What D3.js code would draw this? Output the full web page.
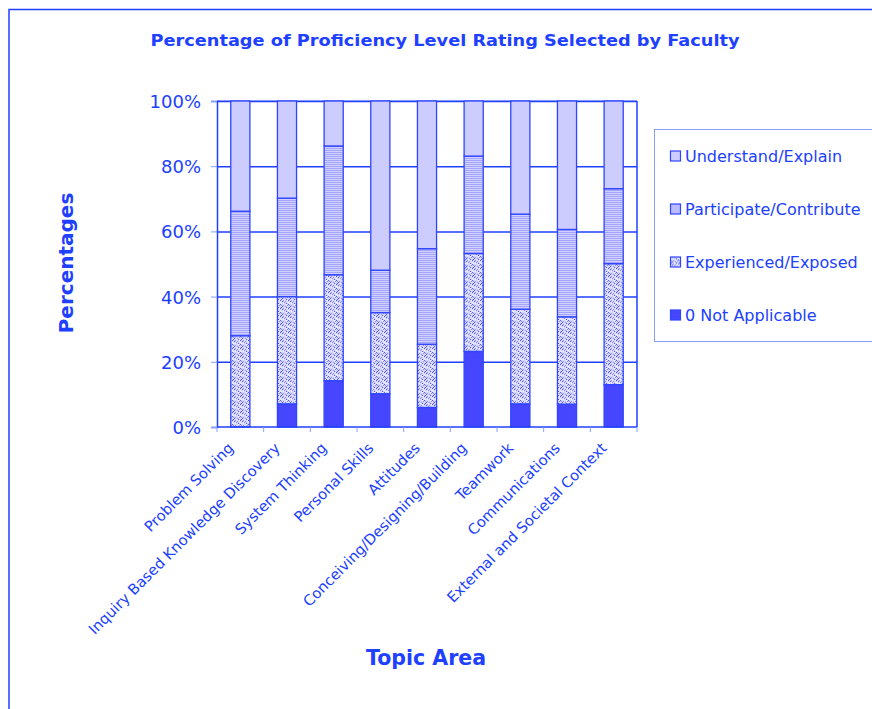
<!DOCTYPE html>
<html>
<head>
<meta charset="utf-8">
<script src="https://cdn.jsdelivr.net/npm/d3@7"></script>
<style>
  body { margin: 0; background: #fff; }
  text { font-family: Verdana, "DejaVu Sans", sans-serif; fill: #2040ff; }
</style>
</head>
<body>
<svg width="872" height="709"></svg>
<script>
// topic areas and percentage of each rating (stacked bottom to top)
var topics = ['Problem Solving', 'Inquiry Based Knowledge Discovery', 'System Thinking',
    'Personal Skills', 'Attitudes', 'Conceiving/Designing/Building', 'Teamwork',
    'Communications', 'External and Societal Context'];
var notApplicable = [0, 7.1, 14.2, 10.2, 6, 23.2, 7.1, 7, 13];
var experienced   = [28, 32.9, 32.5, 24.9, 19.4, 30, 29, 26.8, 37.1];
var participate   = [38.2, 30.2, 39.5, 13, 29.3, 29.9, 29.2, 26.8, 23];
var understand    = [33.8, 29.8, 13.8, 51.9, 45.3, 16.9, 34.7, 39.4, 26.9];
var seriesNames = ['0 Not Applicable', 'Experienced/Exposed', 'Participate/Contribute', 'Understand/Explain'];
var yTicks = [0, 20, 40, 60, 80, 100];

var svg = d3.select('svg');
var blue = '#2040ff';
var barStroke = '#2f45ff';

var plot = {l: 217, r: 637, t: 101, b: 427};

// fill patterns
var defs = svg.append('defs');
var stripes = defs.append('pattern')
    .attr('id', 'stripes')
    .attr('patternUnits', 'userSpaceOnUse')
    .attr('width', 4).attr('height', 2);
stripes.append('rect').attr('width', 4).attr('height', 2).attr('fill', '#d0d0ff');
stripes.append('rect').attr('width', 4).attr('height', 1).attr('fill', '#a6a6ff');

// fixed speckle tile for "Experienced/Exposed"
var speckleDots = [[0,0],[3,1],[6,0],[1,3],[5,2],[7,4],[2,5],[4,6],[0,6],[6,7],[3,4],[1,7],
    [2,2],[7,1],[4,3],[0,4],[5,5],[3,7],[6,3],[1,1]];
var speckle = defs.append('pattern')
    .attr('id', 'speckle')
    .attr('patternUnits', 'userSpaceOnUse')
    .attr('width', 8).attr('height', 8);
speckle.append('rect').attr('width', 8).attr('height', 8).attr('fill', '#d6d6ff');
speckle.selectAll('rect.dot')
    .data(speckleDots)
    .enter().append('rect')
    .attr('class', 'dot')
    .attr('x', function(d){ return d[0]; })
    .attr('y', function(d){ return d[1]; })
    .attr('width', 1).attr('height', 1)
    .attr('fill', function(d, i){ return i % 3 === 0 ? '#5058f0' : (i % 3 === 1 ? '#8c90ff' : '#f4f4ff'); });

var fills = ['#4646ff', 'url(#speckle)', 'url(#stripes)', '#ccccff'];

// outer chart border
svg.append('path')
    .attr('d', 'M9,709 V9.5 H872')
    .attr('fill', 'none')
    .attr('stroke', blue)
    .attr('stroke-width', 1.5);

// title
svg.append('text')
    .attr('x', 445).attr('y', 46)
    .attr('text-anchor', 'middle')
    .attr('font-weight', 'bold')
    .attr('font-size', 15.5)
    .attr('textLength', 589)
    .attr('lengthAdjust', 'spacingAndGlyphs')
    .text('Percentage of Proficiency Level Rating Selected by Faculty');

// scales
var xScale = d3.scaleBand()
    .domain(topics)
    .range([plot.l, plot.r])
    .paddingInner(0.59)
    .paddingOuter(0.295);

var yScale = d3.scaleLinear()
    .domain([0, 100])
    .range([plot.b, plot.t]);

// plot frame
svg.append('line')
    .attr('x1', plot.l).attr('x2', plot.r)
    .attr('y1', plot.t - 0.5).attr('y2', plot.t - 0.5)
    .attr('stroke', '#aab4ff').attr('stroke-width', 1);
svg.append('line')
    .attr('x1', plot.r).attr('x2', plot.r)
    .attr('y1', plot.t).attr('y2', plot.b)
    .attr('stroke', blue).attr('stroke-width', 1.5);

// gridlines
var yGrid = d3.axisLeft(yScale)
    .tickValues(yTicks.slice(1))
    .tickSize(-(plot.r - plot.l))
    .tickFormat('');
svg.append('g')
    .attr('class', 'grid')
    .attr('transform', 'translate(' + plot.l + ',0)')
    .call(yGrid)
    .call(function(g){
        g.select('.domain').remove();
        g.selectAll('line').attr('stroke', blue).attr('stroke-width', 1.5);
    });

// stacked bars
var rows = topics.map(function(t, i){
    return {topic: t, na: notApplicable[i], exp: experienced[i], part: participate[i], und: understand[i]};
});
var stack = d3.stack().keys(['na', 'exp', 'part', 'und']);
var layers = stack(rows);

svg.append('g').selectAll('g.layer')
    .data(layers)
    .enter().append('g')
    .attr('class', 'layer')
    .attr('fill', function(d, i){ return fills[i]; })
    .selectAll('rect')
    .data(function(d){ return d; })
    .enter().append('rect')
    .attr('x', function(d){ return xScale(d.data.topic); })
    .attr('width', xScale.bandwidth())
    .attr('y', function(d){ return yScale(d[1]); })
    .attr('height', function(d){ return yScale(d[0]) - yScale(d[1]); })
    .attr('stroke', function(d){ return d[1] - d[0] > 0 ? barStroke : 'none'; })
    .attr('stroke-width', 1.3);

// y axis
svg.append('g')
    .attr('class', 'y axis')
    .attr('transform', 'translate(' + plot.l + ',0)')
    .call(d3.axisLeft(yScale).tickValues(yTicks).tickSize(6).tickPadding(10)
        .tickFormat(function(d){ return d + '%'; }))
    .call(function(g){
        g.select('.domain').attr('stroke', blue).attr('stroke-width', 1.5);
        g.selectAll('.tick line').attr('stroke', '#8a9cff');
        g.selectAll('.tick text')
            .attr('font-size', 18)
            .attr('font-family', 'Verdana, "DejaVu Sans", sans-serif')
            .attr('fill', blue)
            .attr('dy', '0.36em');
    });

// x axis with ticks at band edges
var edges = topics.map(function(t){ return xScale(t) - xScale.step() * xScale.paddingInner() / 2; });
edges.push(plot.r);
svg.append('line')
    .attr('x1', plot.l).attr('x2', plot.r)
    .attr('y1', plot.b).attr('y2', plot.b)
    .attr('stroke', blue).attr('stroke-width', 1.5);
svg.append('g').selectAll('line')
    .data(edges)
    .enter().append('line')
    .attr('x1', function(d){ return d; }).attr('x2', function(d){ return d; })
    .attr('y1', plot.b).attr('y2', plot.b + 5)
    .attr('stroke', '#8a9cff');

svg.append('g').selectAll('text')
    .data(topics)
    .enter().append('text')
    .attr('text-anchor', 'end')
    .attr('font-size', 14.7)
    .attr('transform', function(d){
        var cx = xScale(d) + xScale.bandwidth() / 2;
        return 'translate(' + (cx - 6) + ',' + (plot.b + 22) + ') rotate(-45)';
    })
    .text(function(d){ return d; });

// axis titles
svg.append('text')
    .attr('transform', 'translate(73,263) rotate(-90)')
    .attr('text-anchor', 'middle')
    .attr('font-weight', 'bold')
    .attr('font-size', 20)
    .text('Percentages');

svg.append('text')
    .attr('x', 426).attr('y', 665)
    .attr('text-anchor', 'middle')
    .attr('font-weight', 'bold')
    .attr('font-size', 20.5)
    .text('Topic Area');

// legend
var legend = svg.append('g');
legend.append('rect')
    .attr('x', 654.5).attr('y', 129.5)
    .attr('width', 240).attr('height', 212)
    .attr('fill', '#fff')
    .attr('stroke', '#8a9cff');

var legendItems = legend.selectAll('g.item')
    .data(seriesNames.slice().reverse())
    .enter().append('g')
    .attr('class', 'item')
    .attr('transform', function(d, i){ return 'translate(670,' + (161.5 + i * 53) + ')'; });

legendItems.append('rect')
    .attr('x', 0.5).attr('y', -10.5)
    .attr('width', 10).attr('height', 10)
    .attr('fill', function(d){ return fills[seriesNames.indexOf(d)]; })
    .attr('stroke', barStroke)
    .attr('stroke-width', 1.2);

legendItems.append('text')
    .attr('x', 15).attr('y', 0)
    .attr('font-size', 16)
    .text(function(d){ return d; });
</script>
</body>
</html>
